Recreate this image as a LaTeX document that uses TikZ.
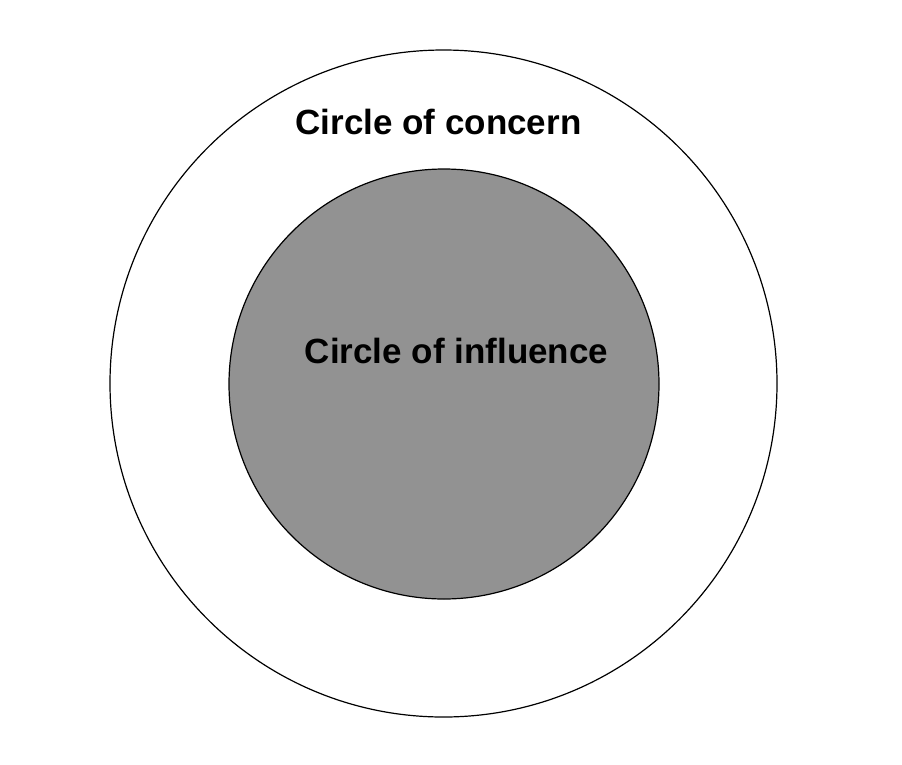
\documentclass[tikz,border=0pt]{standalone}
\usepackage{fontspec}
\setmainfont{Liberation Sans}
\usetikzlibrary{positioning}
\definecolor{influencegray}{RGB}{146,146,146}

\begin{document}
\begin{tikzpicture}[x=1pt,y=-1pt,
  ring/.style={circle,draw=black,line width=1.2pt,inner sep=0pt},
  label/.style={font=\fontsize{35}{42}\selectfont\bfseries,anchor=base,inner sep=0pt}]
  \useasboundingbox (0,0) rectangle (902,764);
  \node[ring,fill=white,minimum size=667pt] (concern) at (443.5,383.5) {};
  \node[ring,fill=influencegray,minimum size=430pt] (influence) at (444,384) {};
  \node[label] (concernlabel) at (438.5,134) {Circle of concern};
  \node[label] (influencelabel) at (456.5,363) {Circle of influence};
\end{tikzpicture}
\end{document}
